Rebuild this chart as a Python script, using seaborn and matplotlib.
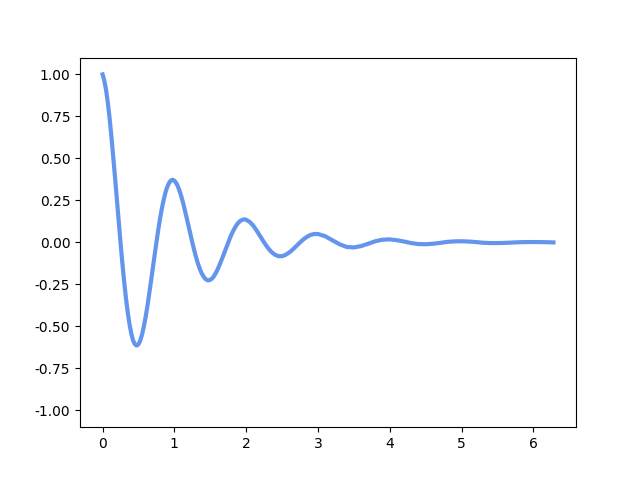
import matplotlib
matplotlib.use("Agg")
import matplotlib.pyplot as plt
import seaborn as sns

# curve values (fine steps where it swings most)
x_vals = [0.000, 0.025, 0.050, 0.075, 0.100, 0.125, 0.150, 0.175, 0.200, 0.225,
          0.250, 0.275, 0.300, 0.325, 0.350, 0.375, 0.400, 0.425, 0.450, 0.475,
          0.500, 0.525, 0.550, 0.575, 0.600, 0.625, 0.650, 0.675, 0.700, 0.725,
          0.750, 0.775, 0.800, 0.825, 0.850, 0.875, 0.900, 0.925, 0.950, 0.975,
          1.000, 1.025, 1.050, 1.075, 1.100, 1.125, 1.150, 1.175, 1.200, 1.225,
          1.250, 1.275, 1.300, 1.325, 1.350, 1.375, 1.400, 1.425, 1.450, 1.475,
          1.500, 1.525, 1.550, 1.575, 1.600, 1.625, 1.650, 1.675, 1.700, 1.725,
          1.750, 1.775, 1.800, 1.825, 1.850, 1.875, 1.900, 1.925, 1.950, 1.975,
          2.00, 2.05, 2.10, 2.15, 2.20, 2.25, 2.30, 2.35, 2.40, 2.45,
          2.50, 2.55, 2.60, 2.65, 2.70, 2.75, 2.80, 2.85, 2.90, 2.95,
          3.00, 3.10, 3.20, 3.30, 3.40, 3.50, 3.60, 3.70, 3.80, 3.90,
          4.00, 4.10, 4.20, 4.30, 4.40, 4.50, 4.60, 4.70, 4.80, 4.90,
          5.00, 5.10, 5.20, 5.30, 5.40, 5.50, 5.60, 5.70, 5.80, 5.90,
          6.00, 6.10, 6.20, 6.28]
y_vals = [1.000, 0.963, 0.905, 0.827, 0.732, 0.624, 0.506, 0.381, 0.253, 0.125,
          0.000, -0.119, -0.229, -0.328, -0.414, -0.486, -0.542, -0.583, -0.606, -0.614,
          -0.607, -0.584, -0.549, -0.501, -0.444, -0.379, -0.307, -0.231, -0.153, -0.076,
          0.000, 0.072, 0.139, 0.199, 0.251, 0.295, 0.329, 0.353, 0.368, 0.373,
          0.368, 0.354, 0.333, 0.304, 0.269, 0.230, 0.186, 0.140, 0.093, 0.046,
          0.000, -0.044, -0.084, -0.121, -0.152, -0.179, -0.199, -0.214, -0.223, -0.226,
          -0.223, -0.215, -0.202, -0.184, -0.163, -0.139, -0.113, -0.085, -0.056, -0.028,
          0.000, 0.026, 0.051, 0.073, 0.092, 0.109, 0.121, 0.130, 0.135, 0.137,
          0.135, 0.122, 0.099, 0.068, 0.034, 0.000, -0.031, -0.056, -0.073, -0.082,
          -0.082, -0.074, -0.060, -0.042, -0.021, 0.000, 0.019, 0.034, 0.045, 0.050,
          0.050, 0.037, 0.013, -0.011, -0.027, -0.030, -0.022, -0.008, 0.007, 0.016,
          0.018, 0.013, 0.005, -0.004, -0.010, -0.011, -0.008, -0.003, 0.003, 0.006,
          0.007, 0.005, 0.002, -0.002, -0.004, -0.004, -0.003, -0.001, 0.001, 0.002,
          0.002, 0.002, 0.001, 0.000]

fig, ax = plt.subplots(figsize=(6.4, 4.8), dpi=100)

sns.lineplot(x=x_vals, y=y_vals, ax=ax, color='cornflowerblue', linewidth=3)

yticks = [-1.0, -0.75, -0.5, -0.25, 0.0, 0.25, 0.5, 0.75, 1.0]
ax.set_ylim(-1.1, 1.1)
ax.set_yticks(yticks)
ax.set_yticklabels(['%.2f' % t for t in yticks])

fig.savefig('out.png', dpi=100)
